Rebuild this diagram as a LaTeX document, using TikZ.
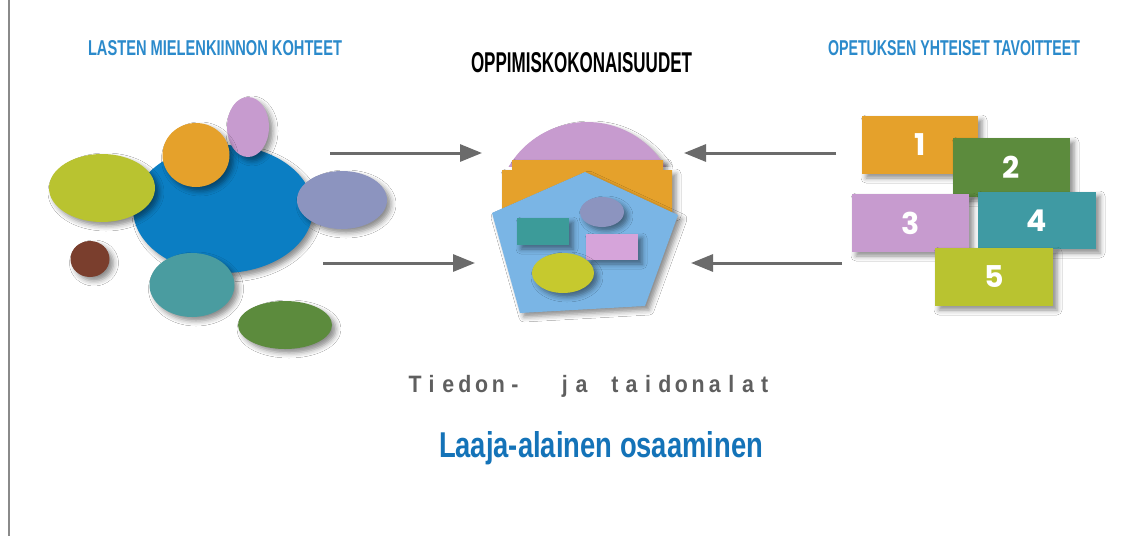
\documentclass[tikz,border=0pt]{standalone}
\usepackage{fontspec}
\setmainfont{Liberation Sans}
\newfontfamily\digitfont{Poppins}
\usetikzlibrary{arrows.meta,shapes.geometric,shadows.blur}
\definecolor{cBlue}{HTML}{0B7EC3}
\definecolor{cLime}{HTML}{B9C330}
\definecolor{cOrange}{HTML}{E5A12B}
\definecolor{cPink}{HTML}{C79BCF}
\definecolor{cSlate}{HTML}{8C94BF}
\definecolor{cBrown}{HTML}{7A3E2D}
\definecolor{cTeal}{HTML}{4A9CA0}
\definecolor{cGreen}{HTML}{5C8B3D}
\definecolor{cPent}{HTML}{7AB5E5}
\definecolor{cTealR}{HTML}{3C9B99}
\definecolor{cPinkR}{HTML}{D6A4DA}
\definecolor{cLimeC}{HTML}{C6C92E}
\definecolor{cBox4}{HTML}{3F9AA3}
\definecolor{cHead}{HTML}{2B8ACB}
\definecolor{cLaaja}{HTML}{1473B8}
\definecolor{cGrayText}{HTML}{5F5F5F}
\definecolor{cArrow}{HTML}{6B6B6B}
\definecolor{cFrame}{HTML}{8A8A8A}
\newcommand\LSchar[1]{\makebox[16.65pt][c]{\scalebox{0.9}[1]{#1}}}
\begin{document}
\begin{tikzpicture}[x=1pt,y=-1pt,
  shade/.style={blur shadow={shadow xshift=4pt,shadow yshift=-4pt,shadow blur radius=5pt,shadow opacity=45}},
  blob/.style={ellipse,draw=none,inner sep=0pt,outer sep=0pt,shade},
  plainbox/.style={rectangle,draw=none,inner sep=0pt,outer sep=0pt,shade},
  numbox/.style={rectangle,draw=none,inner sep=0pt,outer sep=0pt,minimum width=116pt,minimum height=58pt,shade,
     text=white,font=\digitfont\bfseries\fontsize{30}{30}\selectfont},
  arr/.style={draw=cArrow,line width=3pt,-{Triangle[length=22pt,width=17pt]}},
  head/.style={anchor=base west,inner sep=0pt,outer sep=0pt}]
\useasboundingbox (0,0) rectangle (1127,536);
\fill[white] (0,0) rectangle (1127,536);
\draw[cFrame,line width=2pt] (9,0) -- (9,536);

% headings
\node[head,text=cHead,font=\bfseries] (h1) at (88,55) {\resizebox{254pt}{15pt}{LASTEN MIELENKIINNON KOHTEET}};
\node[head,text=black,font=\bfseries] (h2) at (471,72) {\resizebox{221pt}{20pt}{OPPIMISKOKONAISUUDET}};
\node[head,text=cHead,font=\bfseries] (h3) at (828,55) {\resizebox{252pt}{15pt}{OPETUKSEN YHTEISET TAVOITTEET}};

% left cluster
\node[blob,fill=cBlue,minimum width=180pt,minimum height=128pt] (bigblue) at (223,209) {};
\node[blob,fill=cLime,minimum width=106pt,minimum height=68pt] (lime) at (102,188) {};
\node[blob,fill=cPink,minimum width=42pt,minimum height=60pt] (pinkL) at (248,127) {};
\node[blob,fill=cOrange,minimum width=67pt,minimum height=64pt] (orangeL) at (196,155) {};
\node[blob,fill=cSlate,minimum width=90pt,minimum height=58pt] (slateL) at (342,200) {};
\node[blob,fill=cBrown,minimum width=39pt,minimum height=36pt] (brown) at (90,259) {};
\node[blob,fill=cTeal,minimum width=85pt,minimum height=64pt] (tealL) at (192,285) {};
\node[blob,fill=cGreen,minimum width=94pt,minimum height=48pt] (greenL) at (285,325) {};

% center shape
\begin{scope}
  \clip (480,100) rectangle (700,166);
  \fill[cPink,shade] (587,213) circle[radius=91pt];
\end{scope}
\fill[cOrange,shade] (512,160) -- (663,160) -- (663,170) -- (672,170) -- (672,212)
   -- (502,212) -- (502,170) -- (512,170) -- cycle;
\fill[cPent,shade] (585,172) -- (678,215) -- (645,306) -- (520,313) -- (492,213) -- cycle;
\node[plainbox,fill=cTealR,minimum width=52pt,minimum height=27pt] (rT) at (543,231.5) {};
\node[blob,fill=cSlate,minimum width=44pt,minimum height=30pt] (eS) at (602,212) {};
\node[plainbox,fill=cPinkR,minimum width=52pt,minimum height=26pt] (rP) at (612,247) {};
\node[blob,fill=cLimeC,minimum width=62pt,minimum height=40pt] (eL) at (563,273) {};

% right boxes
\node[numbox,fill=cOrange] (n1) at (920,145) {1};
\node[numbox,fill=cGreen,minimum width=117pt,minimum height=59pt] (n2) at (1011.5,167.5) {2};
\node[numbox,fill=cPink,minimum width=117pt] (n3) at (910.5,223) {3};
\node[numbox,fill=cBox4,minimum width=118pt,minimum height=57pt] (n4) at (1037,220.5) {4};
\node[numbox,fill=cLime,minimum width=118pt] (n5) at (994,277) {5};

% arrows
\coordinate (a1s) at (330,153); \coordinate (a1e) at (482,153);
\coordinate (a2s) at (323,263); \coordinate (a2e) at (475,263);
\coordinate (a3s) at (836,153); \coordinate (a3e) at (684,153);
\coordinate (a4s) at (842,263); \coordinate (a4e) at (691,263);
\draw[arr] (a1s) -- (a1e);
\draw[arr] (a2s) -- (a2e);
\draw[arr] (a3s) -- (a3e);
\draw[arr] (a4s) -- (a4e);

% bottom texts
\node[head,text=cGrayText,font=\bfseries\fontsize{23.7}{24}\selectfont] (tiedon) at (406.7,392)
  {\LSchar{T}\LSchar{i}\LSchar{e}\LSchar{d}\LSchar{o}\LSchar{n}\LSchar{-}\LSchar{\ }\LSchar{\ }\LSchar{j}\LSchar{a}\LSchar{\ }\LSchar{t}\LSchar{a}\LSchar{i}\LSchar{d}\LSchar{o}\LSchar{n}\LSchar{a}\LSchar{l}\LSchar{a}\LSchar{t}};
\node[head,text=cLaaja,font=\bfseries] (laaja) at (439,457) {\resizebox{324pt}{26pt}{Laaja-alainen osaaminen}};
\end{tikzpicture}
\end{document}
